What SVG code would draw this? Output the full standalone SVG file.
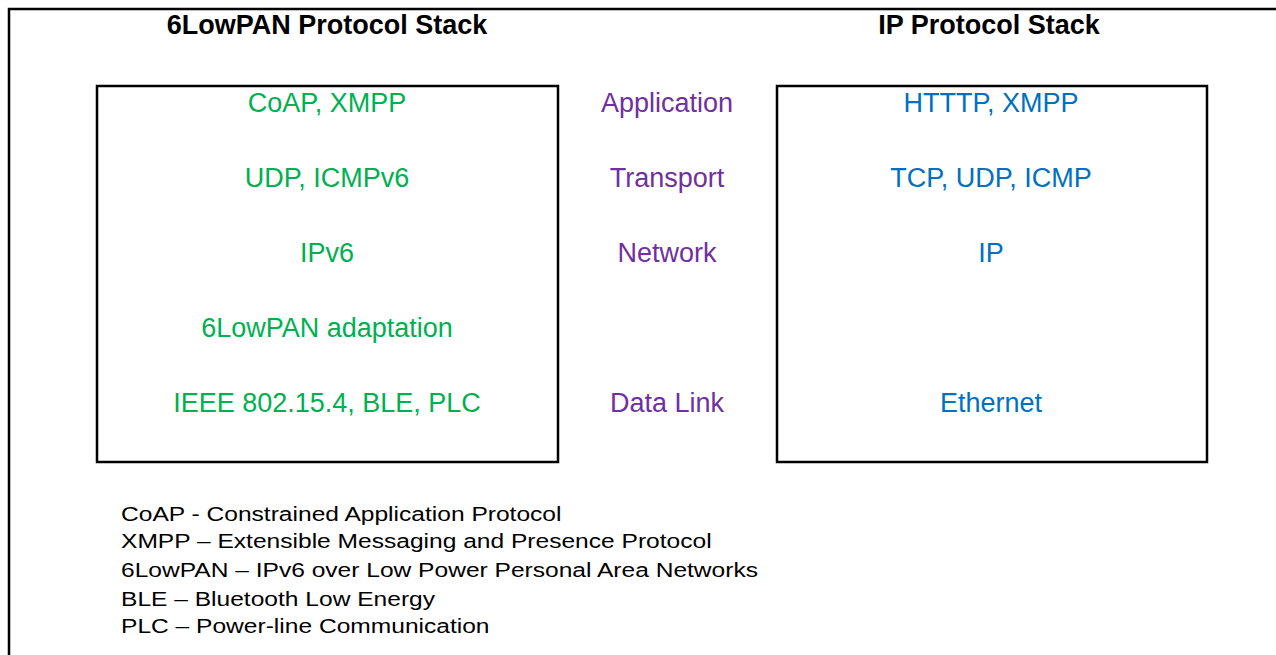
<svg xmlns="http://www.w3.org/2000/svg" width="1276" height="655" viewBox="0 0 1276 655">
<style>
.frame{fill:none;stroke:#000;stroke-width:2.5}
.title{font-family:"Liberation Sans",Arial,sans-serif;font-weight:bold;font-size:27px;fill:#000;text-anchor:middle}
.g{font-family:"Liberation Sans",Arial,sans-serif;font-size:27px;fill:#00B050;text-anchor:middle}
.p{font-family:"Liberation Sans",Arial,sans-serif;font-size:27px;fill:#7030A0;text-anchor:middle}
.b{font-family:"Liberation Sans",Arial,sans-serif;font-size:27px;fill:#0070C0;text-anchor:middle}
.leg{font-family:"Liberation Sans",Arial,sans-serif;font-size:21px;fill:#000}
</style>
<rect width="1276" height="655" fill="#fff"/>
<g id="outer"><path class="frame" d="M9,700 V9 H1290"/></g>
<g id="titles">
<text class="title" x="327" y="34">6LowPAN Protocol Stack</text>
<text class="title" x="989" y="34">IP Protocol Stack</text>
</g>
<g id="lowpan-stack">
<rect class="frame" x="97" y="86" width="461" height="376"/>
<text class="g" x="327" y="112">CoAP, XMPP</text>
<text class="g" x="327" y="187">UDP, ICMPv6</text>
<text class="g" x="327" y="262">IPv6</text>
<text class="g" x="327" y="337">6LowPAN adaptation</text>
<text class="g" x="327" y="412">IEEE 802.15.4, BLE, PLC</text>
</g>
<g id="layers">
<text class="p" x="667" y="112">Application</text>
<text class="p" x="667" y="187">Transport</text>
<text class="p" x="667" y="262">Network</text>
<text class="p" x="667" y="412">Data Link</text>
</g>
<g id="ip-stack">
<rect class="frame" x="777" y="86" width="430" height="376"/>
<text class="b" x="991" y="112">HTTTP, XMPP</text>
<text class="b" x="991" y="187">TCP, UDP, ICMP</text>
<text class="b" x="991" y="262">IP</text>
<text class="b" x="991" y="412">Ethernet</text>
</g>
<g id="connectors"></g>
<g id="legend" transform="translate(121,0) scale(1.17,1)">
<text class="leg" x="0" y="521">CoAP - Constrained Application Protocol</text>
<text class="leg" x="0" y="548">XMPP – Extensible Messaging and Presence Protocol</text>
<text class="leg" x="0" y="577">6LowPAN – IPv6 over Low Power Personal Area Networks</text>
<text class="leg" x="0" y="606">BLE – Bluetooth Low Energy</text>
<text class="leg" x="0" y="633">PLC – Power-line Communication</text>
</g>
</svg>
